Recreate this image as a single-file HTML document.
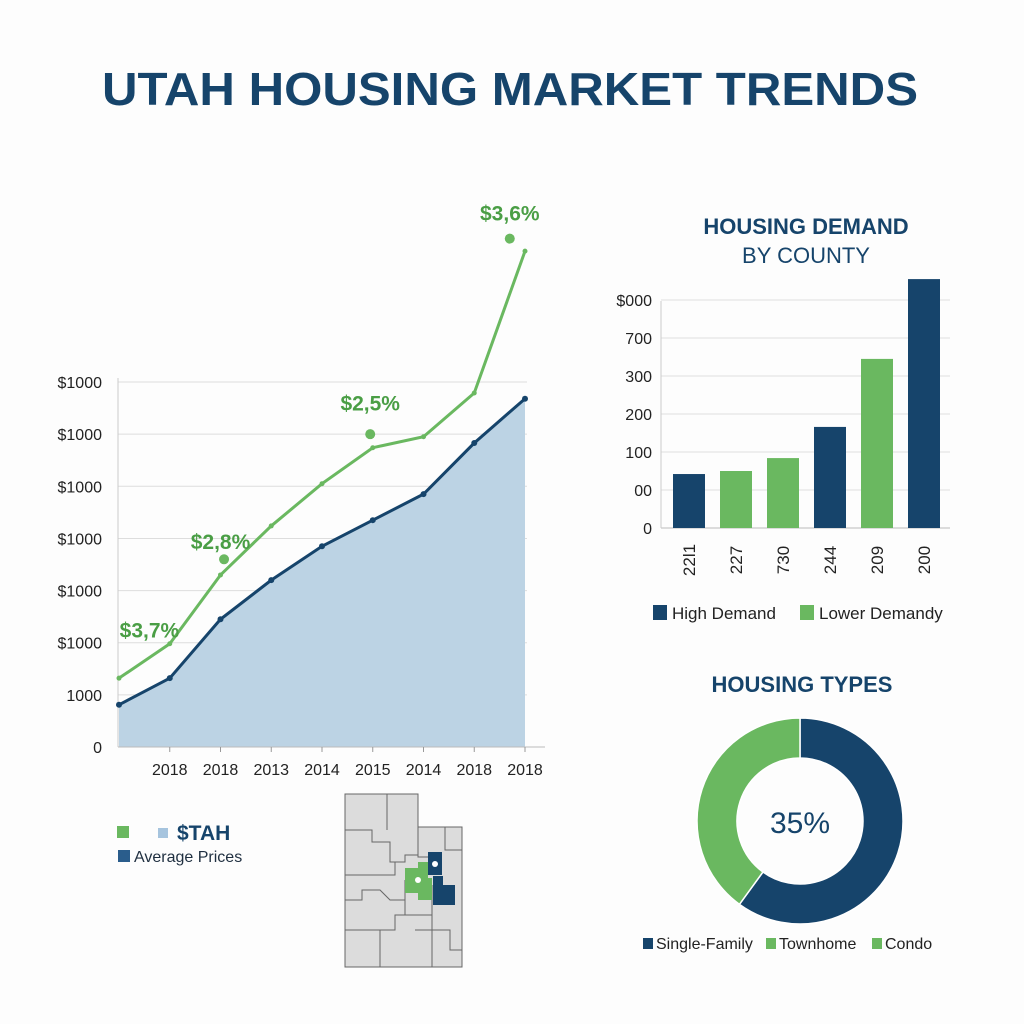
<!DOCTYPE html>
<html><head><meta charset="utf-8"><style>
html,body{margin:0;padding:0;background:#fdfdfd;}
svg{display:block;font-family:"Liberation Sans",sans-serif;}
</style></head><body>
<svg id="root" width="1024" height="1024" viewBox="0 0 1024 1024">
<rect width="1024" height="1024" fill="#fdfdfd"/>
<text x="510" y="105" text-anchor="middle" font-size="46" font-weight="bold" fill="#16446b" textLength="816" lengthAdjust="spacingAndGlyphs">UTAH HOUSING MARKET TRENDS</text>
<g id="line"></g>
<g id="bars">
<text x="806" y="234" text-anchor="middle" font-size="22" font-weight="bold" fill="#16446b">HOUSING DEMAND</text>
<text x="806" y="263" text-anchor="middle" font-size="22" fill="#16446b">BY COUNTY</text>
</g>
<g id="donut">
<text x="802" y="692" text-anchor="middle" font-size="22" font-weight="bold" fill="#16446b">HOUSING TYPES</text>
</g>
<g>
<rect x="117" y="826" width="12" height="12" fill="#6ab860"/>
<rect x="158" y="828" width="10" height="10" fill="#a6c4de"/>
<text x="177" y="840" font-size="21" font-weight="bold" fill="#16446b">$TAH</text>
<rect x="118" y="850" width="12" height="12" fill="#2a5d8c"/>
<text x="134" y="862" font-size="16" fill="#1f2f40">Average Prices</text>
</g>
<g stroke="#666" stroke-width="1" fill="#dcdcdc">
<path d="M345 794 L418 794 L418 827 L462 827 L462 967 L345 967 Z"/>
<path d="M345 830 L372 830 L372 842 L390 842 L390 862 L405 862 L405 855 L418 855 M387 794 L387 830 M418 827 L418 857 L432 857 M345 875 L395 875 L395 862 M345 900 L362 900 L362 890 L380 890 L390 900 L405 900 L405 880 M345 930 L395 930 L395 915 L405 915 L405 900 M380 930 L380 967 M415 930 L432 930 L432 967 M432 885 L432 930 L450 930 L450 950 L462 950 M445 827 L445 850 L462 850 M405 900 L405 915 L432 915" fill="none"/>
<path d="M418 862 L428 862 L428 878 L432 878 L432 900 L418 900 L418 893 L405 893 L405 868 L418 868 Z" fill="#6ab860" stroke="none"/>
<path d="M428 852 L442 852 L442 875 L428 875 Z" fill="#16446b" stroke="none"/>
<path d="M433 876 L443 876 L443 885 L455 885 L455 905 L433 905 Z" fill="#16446b" stroke="none"/>
<circle cx="418" cy="880" r="3" fill="#fff" stroke="none"/>
<circle cx="435" cy="864" r="3" fill="#fff" stroke="none"/>
</g>
</svg>
<script>
const NS="http://www.w3.org/2000/svg";
const lineCategories=["","2018","2018","2013","2014","2015","2014","2018","2018"];
const averagePrices=[0.81,1.32,2.45,3.2,3.85,4.35,4.85,5.83,6.68];
const stahPrices=[1.32,1.98,3.3,4.24,5.05,5.74,5.95,6.79,9.51];
const lineTickLabels=["0","1000","$1000","$1000","$1000","$1000","$1000","$1000"];
const growthLabels=["$3,7%","$2,8%","$2,5%","$3,6%"];
const growthIndex=[0.6,2.0,4.95,7.7];
const growthLabelValues=[2.1,3.8,6.45,10.1];
const markerIndex=[2.07,4.95,7.7];
const markerValues=[3.6,6.0,9.75];
const barCategories=["22l1","227","730","244","209","200"];
const barValues=[1.42,1.5,1.84,2.66,4.45,6.55];
const barGroups=["high","low","low","high","low","high"];
const barTickLabels=["0","00","100","200","300","700","$000"];
const donutLabels=["Single-Family","Townhome","Condo"];
const donutValues=[60,40,0];
const donutCenterLabel="35%";

function mk(tag,attrs,parent,name){const e=document.createElementNS(NS,tag);for(const k in attrs)e.setAttribute(k,attrs[k]);


parent.appendChild(e);return e;}

const L=document.getElementById('line');
const xL=i=>119+i*(525-119)/(averagePrices.length-1);
const yL=v=>747-v*52.14;
lineTickLabels.forEach((t,i)=>{
  if(i>0) mk('line',{x1:118,x2:527,y1:yL(i),y2:yL(i),stroke:'#dddddd','stroke-width':1},L,'y-gridline');
  const tx=mk('text',{x:102,y:yL(i)+6,'text-anchor':'end','font-size':16,fill:'#222'},L,'y-tick-label');tx.textContent=t;
});
mk('line',{x1:118,x2:118,y1:378,y2:747,stroke:'#ccc'},L,'y-axis');
let area='M'+xL(0)+' 747 '+averagePrices.map((v,i)=>'L'+xL(i)+' '+yL(v)).join(' ')+' L'+xL(averagePrices.length-1)+' 747 Z';
mk('path',{d:area,fill:'#bcd3e4'},L,'average-price-area');
mk('line',{x1:118,x2:545,y1:747,y2:747,stroke:'#bbb'},L,'x-axis');
lineCategories.forEach((c,i)=>{if(!c)return;const t=mk('text',{x:xL(i),y:775,'text-anchor':'middle','font-size':16,fill:'#222'},L,'x-tick-label');t.textContent=c;
 mk('line',{x1:xL(i),x2:xL(i),y1:747,y2:752,stroke:'#999'},L,'x-tick');});
mk('polyline',{points:stahPrices.map((v,i)=>xL(i)+','+yL(v)).join(' '),fill:'none',stroke:'#6ab860','stroke-width':3},L,'stah-line');
stahPrices.forEach((v,i)=>mk('circle',{cx:xL(i),cy:yL(v),r:2.5,fill:'#6ab860'},L,'stah-point'));
mk('polyline',{points:averagePrices.map((v,i)=>xL(i)+','+yL(v)).join(' '),fill:'none',stroke:'#16446b','stroke-width':3},L,'average-price-line');
averagePrices.forEach((v,i)=>mk('circle',{cx:xL(i),cy:yL(v),r:3,fill:'#16446b'},L,'average-price-point'));
markerValues.forEach((v,i)=>mk('circle',{cx:xL(markerIndex[i]),cy:yL(v),r:5,fill:'#6ab860'},L,'growth-marker'));
growthLabels.forEach((g,i)=>{
 const t=mk('text',{x:xL(growthIndex[i]),y:yL(growthLabelValues[i]),'text-anchor':'middle','font-size':21,'font-weight':'bold',fill:'#4a9e45'},L,'growth-label');t.textContent=g;});

const B=document.getElementById('bars');
const yB=v=>528-v*38;
barTickLabels.forEach((t,i)=>{
  mk('line',{x1:661,x2:950,y1:yB(i),y2:yB(i),stroke:i==0?'#bbb':'#e0e0e0'},B,'bar-gridline');
  const tx=mk('text',{x:652,y:yB(i)+6,'text-anchor':'end','font-size':16,fill:'#222'},B,'bar-y-tick-label');tx.textContent=t;});
mk('line',{x1:661,x2:661,y1:301,y2:528,stroke:'#ccc'},B,'bar-y-axis');
barValues.forEach((v,i)=>{const x=673+i*47;
 mk('rect',{x:x,y:yB(v),width:32,height:528-yB(v),fill:barGroups[i]=='high'?'#16446b':'#6ab860'},B,'bar-'+barCategories[i]);
 const t=mk('text',{x:0,y:0,transform:'translate('+(x+22)+',560) rotate(-90)','text-anchor':'middle','font-size':17,fill:'#222'},B,'bar-category-label');t.textContent=barCategories[i];});
mk('rect',{x:653,y:605,width:14,height:15,fill:'#16446b'},B,'legend-swatch-high');
let t1=mk('text',{x:672,y:619,'font-size':17,fill:'#222'},B,'legend-label-high');t1.textContent='High Demand';
mk('rect',{x:800,y:605,width:14,height:15,fill:'#6ab860'},B,'legend-swatch-low');
let t2=mk('text',{x:819,y:619,'font-size':17,fill:'#222'},B,'legend-label-low');t2.textContent='Lower Demandy';

const D=document.getElementById('donut');
const cx=800,cy=821,R=103,r=63,tot=donutValues.reduce((a,b)=>a+b,0);
const cols=['#16446b','#6ab860','#6ab860'];
let a0=0;
donutValues.forEach((v,i)=>{if(v<=0)return;const a1=a0+v/tot*2*Math.PI;
 const p=(a,rr)=>[cx+rr*Math.sin(a),cy-rr*Math.cos(a)];
 const [x0,y0]=p(a0,R),[x1,y1]=p(a1,R),[x2,y2]=p(a1,r),[x3,y3]=p(a0,r);const lg=(a1-a0)>Math.PI?1:0;
 mk('path',{d:`M${x0} ${y0} A${R} ${R} 0 ${lg} 1 ${x1} ${y1} L${x2} ${y2} A${r} ${r} 0 ${lg} 0 ${x3} ${y3} Z`,fill:cols[i],stroke:'#fff','stroke-width':1.5},D,'donut-slice-'+donutLabels[i].toLowerCase());
 a0=a1;});
let ct=mk('text',{x:cx,y:cy+12,'text-anchor':'middle','font-size':30,fill:'#16446b'},D,'donut-center-label');ct.textContent=donutCenterLabel;
const lx=[643,766,872];
donutLabels.forEach((l,i)=>{mk('rect',{x:lx[i],y:938,width:10,height:11,fill:cols[i]},D,'donut-legend-swatch');
 const t=mk('text',{x:lx[i]+13,y:949,'font-size':16,fill:'#222'},D,'donut-legend-label');t.textContent=l;});
</script>
</body></html>
